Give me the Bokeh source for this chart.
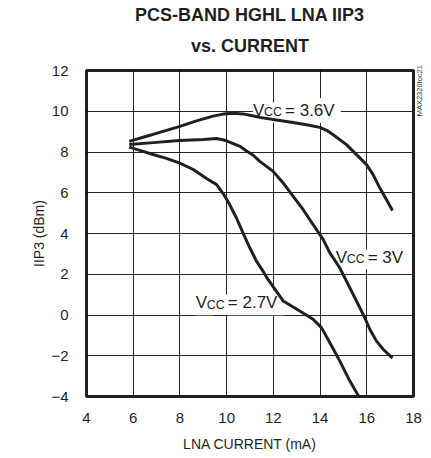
import math
from bokeh.plotting import figure
from bokeh.models import Title, LinearAxis, FixedTicker, Range1d
from bokeh.core.properties import value
from bokeh.embed import file_html
from bokeh.resources import INLINE

# ---------------- data ----------------
x_ticks = [4, 6, 8, 10, 12, 14, 16, 18]
y_ticks = [-4, -2, 0, 2, 4, 6, 8, 10, 12]

# VCC = 3.6V
x_36 = [5.83, 6.57, 7.28, 8.0, 8.71, 9.42, 9.85, 10.3, 10.7, 11.1, 11.42, 12.13,
        12.84, 13.42, 13.99, 14.3, 14.56, 15.13, 15.56, 15.99, 16.27, 16.56,
        16.84, 17.1]
y_36 = [8.52, 8.77, 9.01, 9.26, 9.53, 9.76, 9.86, 9.9, 9.87, 9.78, 9.7, 9.57,
        9.45, 9.34, 9.21, 9.05, 8.85, 8.36, 7.87, 7.38, 6.89, 6.23, 5.67, 5.13]

# VCC = 3V
x_30 = [5.83, 6.86, 7.97, 9.0, 9.57, 9.97, 10.57, 10.85, 11.14, 11.42, 11.99,
        12.42, 12.84, 13.27, 13.7, 14.13, 14.42, 14.84, 15.27, 15.7, 15.91,
        16.13, 16.41, 16.7, 17.1]
y_30 = [8.37, 8.46, 8.56, 8.61, 8.66, 8.56, 8.28, 8.05, 7.84, 7.54, 7.05,
        6.48, 5.83, 5.18, 4.44, 3.71, 3.05, 2.32, 1.34, 0.36, -0.13,
        -0.7, -1.27, -1.68, -2.12]

# VCC = 2.7V
x_27 = [5.83, 6.28, 6.85, 7.42, 7.97, 8.57, 9.14, 9.57, 9.85, 10.13, 10.42,
        10.7, 10.99, 11.28, 11.5, 11.77, 11.92, 12.42, 13.13, 13.7, 14.06,
        14.42, 14.84, 15.27, 15.67]
y_27 = [8.24, 8.08, 7.88, 7.69, 7.47, 7.14, 6.7, 6.4, 5.96, 5.42, 4.76,
        4.03, 3.3, 2.64, 2.25, 1.75, 1.5, 0.69, 0.2, -0.21, -0.62,
        -1.36, -2.25, -3.23, -4.02]

# curve labels (V_CC = ...)
lab_x = [11.13, 14.67, 8.68]
lab_y = [10.04, 2.84, 0.6]
lab_main = ["V", "V", "V"]
lab_sub = ["CC", "CC", "CC"]
lab_rest = ["= 3.6V", "= 3V", "= 2.7V"]

title_1 = "PCS-BAND HGHL LNA IIP3"
title_2 = "vs. CURRENT"
x_label = "LNA CURRENT (mA)"
y_label = "IIP3 (dBm)"
code_label = "MAX2320toc21"
code_y = 9.75

# ---------------- style ----------------
FONT = "Liberation Sans"
INK = "#231f20"

p = figure(width=431, height=458, x_range=Range1d(4, 18), y_range=Range1d(-4, 12),
           output_backend="svg", toolbar_location=None, title=None,
           min_border_left=86, min_border_right=18, min_border_top=70,
           min_border_bottom=62)

p.add_layout(Title(text=title_2, align="center", text_font=FONT,
                   text_font_size="18px", text_font_style="bold",
                   text_color=INK, standoff=30), "above")
p.add_layout(Title(text=title_1, align="center", text_font=FONT,
                   text_font_size="18px", text_font_style="bold",
                   text_color=INK, standoff=-12), "above")

p.outline_line_color = INK
p.outline_line_width = 3
p.outline_line_alpha = 1.0

for g, t in ((p.xgrid, x_ticks), (p.ygrid, y_ticks)):
    g.ticker = FixedTicker(ticks=t)
    g.grid_line_color = "#000000"
    g.grid_line_width = 1
    g.grid_line_alpha = 0.85

p.xaxis.ticker = FixedTicker(ticks=x_ticks)
p.yaxis.ticker = FixedTicker(ticks=y_ticks)
for ax in (p.xaxis[0], p.yaxis[0]):
    ax.axis_line_color = None
    ax.major_tick_line_color = None
    ax.minor_tick_line_color = None
    ax.major_tick_in = 0
    ax.major_tick_out = 0
    ax.minor_tick_in = 0
    ax.minor_tick_out = 0
    ax.major_label_text_font = FONT
    ax.major_label_text_font_size = "15px"
    ax.major_label_text_color = INK
    ax.axis_label_text_font = FONT
    ax.axis_label_text_font_size = "14px"
    ax.axis_label_text_font_style = "normal"
    ax.axis_label_text_color = INK
p.xaxis.axis_label = x_label
p.yaxis.axis_label = y_label
p.xaxis.major_label_standoff = 16
p.yaxis.major_label_standoff = 18
p.xaxis.axis_label_standoff = 10
p.yaxis.axis_label_standoff = 1

# figure code printed along the right edge, reading upwards
code_axis = LinearAxis(ticker=FixedTicker(ticks=[code_y]),
                       major_label_overrides={code_y: code_label},
                       axis_line_color=None, major_tick_line_color=None,
                       minor_tick_line_color=None, major_tick_in=0,
                       major_tick_out=0, minor_tick_in=0, minor_tick_out=0,
                       major_label_standoff=6,
                       major_label_text_font=FONT,
                       major_label_text_font_size="7.5px",
                       major_label_text_color="#333333",
                       major_label_orientation=math.pi / 2)
p.add_layout(code_axis, "right")

src = dict(x=lab_x, y=lab_y, m=lab_main, s=lab_sub, r=lab_rest)
MAIN, SUB = "17px", "12.5px"
SUB_DX, REST_DX = 11, 32

# white boxes behind the curve labels (drawn under the curves)
common_bg = dict(text_alpha=0.0, background_fill_color="white", padding=3,
                 text_font=value(FONT), text_baseline="alphabetic")
p.text(x="x", y="y", text="m", source=src, text_font_size=MAIN, **common_bg)
p.text(x="x", y="y", text="s", source=src, text_font_size=SUB,
       x_offset=SUB_DX, y_offset=2, **common_bg)
p.text(x="x", y="y", text="r", source=src, text_font_size=MAIN,
       x_offset=REST_DX, **common_bg)

for xs, ys in ((x_36, y_36), (x_30, y_30), (x_27, y_27)):
    p.line(xs, ys, line_width=3, line_color=INK, line_join="round")

common_fg = dict(text_color=INK, text_font=value(FONT), text_baseline="alphabetic")
p.text(x="x", y="y", text="m", source=src, text_font_size=MAIN, **common_fg)
p.text(x="x", y="y", text="s", source=src, text_font_size=SUB,
       x_offset=SUB_DX, y_offset=2, **common_fg)
p.text(x="x", y="y", text="r", source=src, text_font_size=MAIN,
       x_offset=REST_DX, **common_fg)

open("out.html", "w").write(file_html(p, INLINE))
